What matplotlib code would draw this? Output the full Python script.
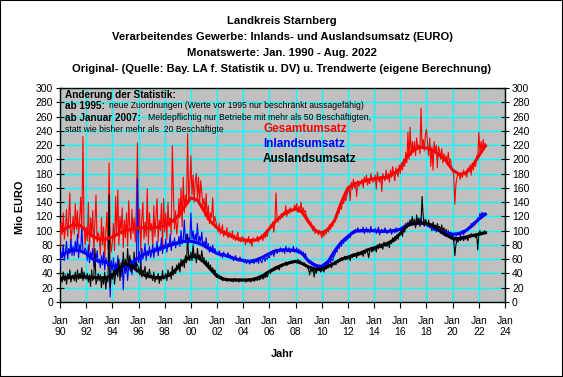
import numpy as np
import matplotlib
matplotlib.use("Agg")
import matplotlib.pyplot as plt
from matplotlib.patches import Rectangle

plt.rcParams['font.family'] = ['Liberation Sans', 'DejaVu Sans']

# Monatswerte Jan. 1990 - Aug. 2022 (Mio EURO), eine Zeile pro Jahr
gesamt = [
    78, 112, 95, 125, 88, 104, 130, 92, 118, 153, 85, 100,        # 1990
    120, 95, 138, 102, 128, 90, 115, 147, 98, 232, 110, 80,       # 1991
    105, 86, 140, 72, 118, 95, 128, 68, 112, 150, 84, 97,         # 1992
    92, 66, 118, 80, 105, 62, 98, 126, 74, 195, 88, 70,           # 1993
    85, 110, 72, 148, 95, 157, 80, 120, 98, 132, 76, 115,         # 1994
    90, 125, 78, 142, 105, 88, 130, 96, 118, 84, 135, 223,        # 1995
    95, 130, 70, 118, 140, 88, 112, 92, 159, 80, 125, 100,        # 1996
    110, 78, 135, 92, 120, 145, 85, 115, 100, 138, 75, 145,       # 1997
    98, 125, 88, 140, 105, 118, 95, 219, 150, 102, 128, 95,       # 1998
    110, 145, 118, 160, 105, 175, 125, 150, 135, 236, 140, 165,   # 1999
    205, 150, 178, 140, 169, 180, 145, 175, 138, 170, 152, 135,   # 2000
    145, 120, 152, 115, 135, 110, 125, 118, 146, 108, 120, 112,   # 2001
    105, 98, 110, 95, 102, 108, 92, 100, 96, 104, 90, 98,         # 2002
    96, 90, 100, 88, 94, 86, 92, 98, 85, 90, 84, 92,              # 2003
    85, 90, 80, 88, 84, 92, 82, 86, 78, 90, 85, 88,               # 2004
    86, 92, 84, 90, 88, 94, 86, 96, 90, 94, 92, 100,              # 2005
    100, 108, 104, 112, 98, 110, 153, 118, 112, 120, 116, 124,    # 2006
    118, 126, 122, 135, 120, 128, 124, 132, 126, 130, 128, 136,   # 2007
    130, 138, 126, 134, 128, 140, 124, 132, 126, 128, 120, 118,   # 2008
    115, 108, 112, 104, 100, 106, 96, 102, 98, 94, 100, 96,       # 2009
    90, 98, 92, 100, 95, 104, 98, 108, 102, 110, 106, 112,        # 2010
    112, 120, 118, 128, 125, 135, 130, 140, 138, 146, 142, 150,   # 2011
    155, 162, 142, 168, 158, 172, 160, 165, 148, 170, 162, 168,   # 2012
    165, 172, 160, 175, 168, 178, 164, 170, 166, 180, 172, 168,   # 2013
    170, 178, 158, 182, 172, 168, 176, 155, 180, 174, 170, 185,   # 2014
    172, 180, 168, 185, 175, 190, 178, 170, 188, 180, 176, 192,   # 2015
    180, 195, 185, 200, 190, 210, 195, 238, 200, 245, 205, 225,   # 2016
    210, 225, 205, 230, 215, 220, 208, 272, 215, 228, 212, 235,   # 2017
    242, 222, 205, 230, 190, 218, 185, 225, 210, 220, 188, 218,   # 2018
    212, 200, 215, 195, 208, 198, 205, 192, 210, 195, 200, 188,   # 2019
    185, 178, 137, 165, 175, 182, 178, 172, 180, 175, 185, 178,   # 2020
    180, 175, 188, 182, 192, 178, 195, 185, 198, 190, 205, 200,   # 2021
    238, 210, 225, 212, 228, 215, 222, 218,                       # 2022
]

inland = [
    50, 70, 62, 80, 58, 72, 85, 60, 75, 68, 88, 65,               # 1990
    78, 65, 85, 70, 95, 62, 80, 74, 105, 72, 68, 76,              # 1991
    72, 58, 80, 55, 70, 62, 75, 50, 68, 58, 72, 55,               # 1992
    60, 48, 65, 52, 70, 45, 62, 55, 50, 68, 7, 58,                # 1993
    45, 62, 40, 55, 38, 65, 42, 50, 35, 58, 17, 52,               # 1994
    40, 56, 30, 52, 45, 60, 38, 55, 48, 62, 42, 172,              # 1995
    55, 70, 48, 75, 60, 68, 82, 58, 72, 65, 78, 62,               # 1996
    68, 80, 62, 76, 70, 85, 65, 78, 72, 90, 68, 80,               # 1997
    75, 88, 70, 82, 78, 95, 72, 85, 80, 90, 76, 84,               # 1998
    80, 92, 78, 100, 82, 88, 115, 85, 95, 80, 90, 86,             # 1999
    125, 88, 100, 82, 95, 86, 110, 80, 92, 84, 98, 78,            # 2000
    85, 76, 90, 74, 82, 70, 78, 72, 80, 70, 75, 68,               # 2001
    70, 66, 72, 64, 68, 62, 70, 65, 67, 63, 69, 64,               # 2002
    66, 60, 64, 58, 62, 65, 59, 61, 57, 63, 58, 60,               # 2003
    60, 55, 59, 54, 58, 56, 53, 59, 55, 57, 54, 58,               # 2004
    56, 60, 54, 62, 58, 55, 60, 63, 57, 62, 60, 64,               # 2005
    62, 68, 66, 72, 64, 70, 74, 68, 72, 70, 76, 73,               # 2006
    70, 75, 68, 78, 72, 70, 76, 69, 74, 72, 78, 70,               # 2007
    72, 76, 70, 74, 68, 72, 66, 70, 64, 68, 62, 58,               # 2008
    60, 55, 58, 52, 56, 50, 54, 48, 52, 46, 50, 48,               # 2009
    48, 52, 46, 54, 50, 56, 52, 58, 55, 60, 58, 64,               # 2010
    66, 72, 70, 78, 75, 82, 78, 86, 82, 88, 85, 90,               # 2011
    88, 94, 90, 98, 95, 100, 96, 102, 98, 104, 100, 98,           # 2012
    102, 98, 105, 96, 100, 104, 98, 102, 97, 106, 100, 99,        # 2013
    98, 103, 96, 100, 105, 94, 99, 102, 97, 100, 104, 98,         # 2014
    96, 100, 98, 103, 95, 99, 101, 97, 104, 98, 100, 102,         # 2015
    100, 104, 98, 106, 102, 108, 104, 110, 106, 112, 108, 110,    # 2016
    108, 114, 106, 112, 110, 116, 108, 118, 110, 112, 106, 114,   # 2017
    112, 106, 110, 104, 108, 102, 106, 100, 104, 98, 102, 100,    # 2018
    102, 96, 100, 94, 98, 92, 96, 94, 98, 92, 96, 94,             # 2019
    95, 90, 85, 92, 96, 94, 98, 92, 96, 100, 94, 98,              # 2020
    98, 102, 100, 106, 104, 110, 106, 112, 108, 114, 112, 118,    # 2021
    116, 124, 120, 126, 122, 125, 121, 124,                       # 2022
]

ausland = [
    20, 35, 28, 42, 30, 38, 25, 40, 32, 45, 28, 36,               # 1990
    38, 30, 42, 28, 45, 32, 40, 35, 48, 30, 42, 36,               # 1991
    32, 40, 28, 38, 22, 45, 30, 36, 75, 25, 30, 40,               # 1992
    30, 38, 20, 35, 25, 42, 18, 36, 28, 150, 20, 40,              # 1993
    32, 45, 25, 40, 52, 35, 60, 30, 55, 40, 70, 48,               # 1994
    60, 45, 75, 50, 65, 42, 58, 48, 70, 44, 55, 52,               # 1995
    48, 38, 55, 35, 45, 40, 50, 32, 42, 36, 46, 34,               # 1996
    38, 30, 42, 28, 36, 32, 40, 26, 35, 30, 44, 32,               # 1997
    34, 40, 30, 45, 36, 42, 32, 50, 38, 46, 40, 52,               # 1998
    45, 55, 42, 60, 50, 58, 48, 65, 55, 95, 60, 58,               # 1999
    70, 58, 80, 62, 68, 55, 75, 60, 66, 58, 72, 60,               # 2000
    62, 55, 58, 50, 56, 46, 52, 44, 48, 40, 45, 38,               # 2001
    40, 34, 38, 32, 36, 30, 34, 31, 33, 29, 32, 30,               # 2002
    32, 29, 31, 28, 33, 30, 29, 32, 28, 31, 30, 29,               # 2003
    30, 32, 28, 31, 29, 33, 30, 28, 32, 30, 29, 31,               # 2004
    32, 30, 34, 31, 33, 35, 32, 36, 34, 38, 35, 40,               # 2005
    42, 40, 45, 43, 47, 44, 50, 46, 48, 45, 52, 49,               # 2006
    50, 54, 52, 56, 51, 55, 53, 57, 54, 58, 55, 56,               # 2007
    58, 55, 60, 56, 58, 54, 56, 52, 55, 50, 52, 48,               # 2008
    45, 38, 50, 42, 48, 35, 46, 40, 48, 44, 46, 42,               # 2009
    44, 48, 42, 50, 46, 52, 48, 50, 52, 48, 54, 52,               # 2010
    56, 52, 58, 55, 60, 57, 62, 58, 60, 64, 59, 62,               # 2011
    60, 64, 58, 66, 62, 68, 64, 66, 62, 70, 65, 68,               # 2012
    66, 70, 64, 72, 68, 74, 70, 62, 72, 76, 70, 74,               # 2013
    72, 78, 70, 80, 75, 82, 76, 78, 74, 84, 78, 80,               # 2014
    78, 84, 76, 86, 82, 90, 84, 92, 86, 94, 88, 96,               # 2015
    95, 102, 92, 105, 98, 110, 104, 112, 108, 115, 110, 120,      # 2016
    108, 116, 104, 122, 110, 118, 106, 112, 148, 120, 108, 116,   # 2017
    112, 106, 115, 104, 110, 100, 112, 105, 108, 102, 110, 104,   # 2018
    106, 100, 108, 98, 104, 96, 102, 94, 100, 92, 98, 94,         # 2019
    92, 85, 65, 80, 88, 84, 90, 86, 88, 92, 86, 90,               # 2020
    88, 92, 86, 94, 90, 96, 92, 95, 94, 90, 96, 73,               # 2021
    96, 100, 94, 98, 96, 100, 97, 98,                             # 2022
]

# Trendwerte, je Januar und Juli (1990 - 2022)
trend_gesamt = [
    99, 104, 108, 108, 100, 92, 88, 88, 91, 96,
    100, 102, 104, 104, 104, 105, 107, 112, 120, 133,
    146, 143, 128, 113, 104, 97, 93, 89, 87, 86,
    87, 92, 103, 114, 122, 128, 130, 126, 112, 100,
    97, 102, 115, 140, 160, 166, 168, 171, 173, 174,
    175, 180, 187, 203, 213, 217, 216, 212, 206, 198,
    185, 179, 181, 190, 205, 219,
]
trend_inland = [
    63, 70, 73, 72, 68, 60, 57, 56, 51, 48,
    48, 55, 62, 68, 71, 74, 77, 80, 83, 85,
    85, 83, 79, 73, 68, 66, 63, 60, 58, 57,
    59, 63, 68, 72, 73, 73, 72, 68, 57, 51,
    50, 57, 72, 84, 92, 99, 100, 100, 100, 99,
    99, 100, 102, 108, 110, 111, 109, 104, 100, 97,
    95, 96, 100, 107, 116, 123,
]
trend_ausland = [
    33, 34, 35, 35, 35, 34, 34, 34, 37, 47,
    54, 50, 43, 37, 35, 34, 35, 39, 48, 58,
    64, 63, 56, 46, 36, 32, 31, 31, 31, 31,
    33, 37, 43, 48, 52, 55, 57, 54, 49, 46,
    46, 50, 55, 60, 63, 66, 69, 73, 76, 79,
    82, 87, 96, 107, 110, 111, 110, 107, 100, 94,
    89, 89, 91, 93, 95, 97,
]

jahre_ticks = list(range(1990, 2025, 2))
tick_labels = ["Jan\n%02d" % (j % 100) for j in jahre_ticks]

W, H = 563, 377


def fx(px):
    return px / W


def fy(py):
    return 1 - py / H


fig = plt.figure(figsize=(W / 100, H / 100), dpi=100)
ax = fig.add_axes([fx(60), fy(302), 445 / W, 214 / H])
ax.set_facecolor('#c0c0c0')

x_monat = 1990 + np.arange(len(gesamt)) / 12
x_trend = 1990 + np.arange(len(trend_gesamt)) * 0.5

# Originalwerte duenn, Trend dick
ax.plot(x_monat, gesamt, color='red', lw=0.8, zorder=3)
ax.plot(x_monat, inland, color='blue', lw=0.8, zorder=3)
ax.plot(x_monat, ausland, color='black', lw=0.8, zorder=3)
ax.plot(x_trend, trend_gesamt, color='red', lw=2.2, zorder=4)
ax.plot(x_trend, trend_inland, color='blue', lw=2.2, zorder=4)
ax.plot(x_trend, trend_ausland, color='black', lw=2.2, zorder=4)

ax.set_xlim(1990, 2024)
ax.set_ylim(0, 300)
ax.set_xticks(jahre_ticks)
ax.set_xticklabels(tick_labels)
ax.set_yticks(range(0, 301, 20))
ax.grid(color='#00ffff', lw=1, zorder=1)
ax.set_axisbelow(True)
ax.tick_params(axis='y', direction='inout', length=6, labelsize=7.5, right=True, labelright=True, pad=2)
ax.tick_params(axis='x', direction='out', length=4, labelsize=7.5, pad=6)
for s in ax.spines.values():
    s.set_linewidth(1)

# Titel
titel = ["Landkreis Starnberg",
         "Verarbeitendes Gewerbe: Inlands- und Auslandsumsatz (EURO)",
         "Monatswerte: Jan. 1990 - Aug. 2022",
         "Original- (Quelle: Bay. LA f. Statistik u. DV) u. Trendwerte (eigene Berechnung)"]
for i, t in enumerate(titel):
    fig.text(fx(282), fy(21 + i * 16), t, ha='center', va='center', fontsize=8.1, fontweight='bold')

fig.text(fx(20), fy(207), "Mio EURO", rotation=90, ha='center', va='center', fontsize=7.8, fontweight='bold')
fig.text(fx(282), fy(354), "Jahr", ha='center', va='center', fontsize=7.8, fontweight='bold')

# Hinweise zur Statistik
fig.text(fx(65), fy(94), "Änderung der Statistik:", va='center', fontsize=7.2, fontweight='bold')
fig.text(fx(65), fy(106), "ab 1995:", va='center', fontsize=7.2, fontweight='bold')
fig.text(fx(109), fy(106), "neue Zuordnungen (Werte vor 1995 nur beschränkt aussagefähig)", va='center', fontsize=6.2)
fig.text(fx(65), fy(118), "ab Januar 2007:", va='center', fontsize=7.2, fontweight='bold')
fig.text(fx(148), fy(118), "Meldepflichtig nur Betriebe mit mehr als 50 Beschäftigten,", va='center', fontsize=6.2)
fig.text(fx(65), fy(129), "statt wie bisher mehr als  20 Beschäftigte", va='center', fontsize=6.2)

# Legende als farbiger Text
fig.text(fx(263), fy(129), "Gesamtumsatz", va='center', color='red', fontsize=8.5, fontweight='bold')
fig.text(fx(263), fy(144), "Inlandsumsatz", va='center', color='blue', fontsize=8.5, fontweight='bold')
fig.text(fx(263), fy(159), "Auslandsumsatz", va='center', color='black', fontsize=8.5, fontweight='bold')

fig.patches.append(Rectangle((0, 0), 1, 1, transform=fig.transFigure, fill=False, ec='black', lw=1.5))

fig.savefig("out.png", dpi=100)
